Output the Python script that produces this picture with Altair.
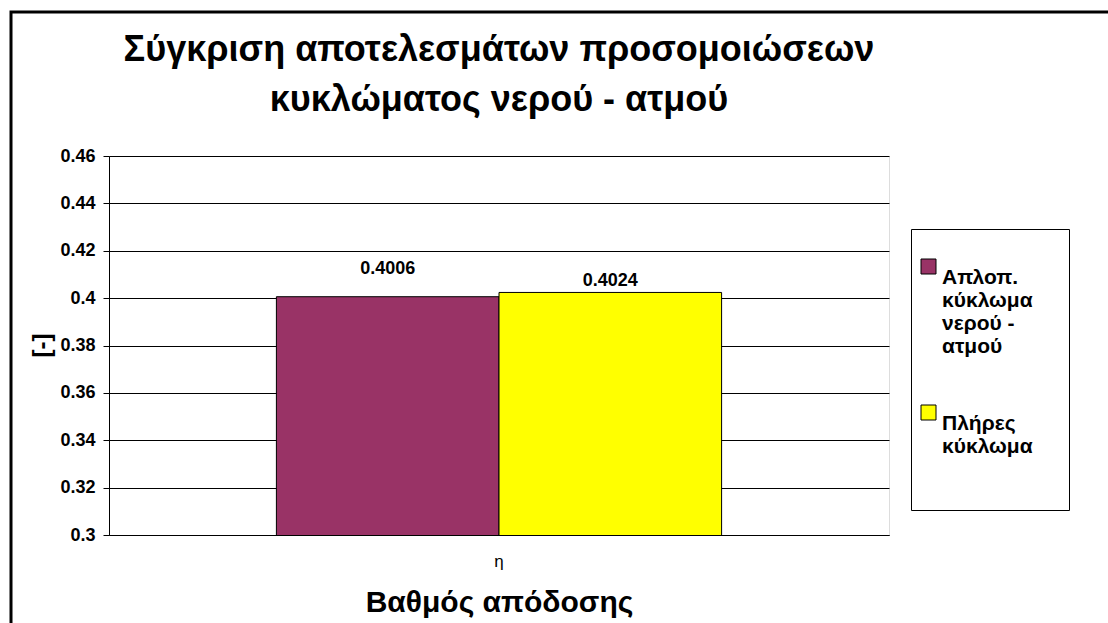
import json
import altair as alt
import pandas as pd

# ---- data ----
categories = ["η"]
series = ["Απλοπ. κύκλωμα νερού - ατμού", "Πλήρες κύκλωμα"]
values = [0.4006, 0.4024]
series_colors = ["#993366", "#FFFF00"]
legend_lines = [
    ["Απλοπ.", "κύκλωμα", "νερού -", "ατμού"],
    ["Πλήρες", "κύκλωμα", "\u2800", "\u2800"],
]
y_ticks = [0.30, 0.32, 0.34, 0.36, 0.38, 0.40, 0.42, 0.44, 0.46]
title_lines = ["Σύγκριση αποτελεσμάτων προσομοιώσεων", "κυκλώματος νερού - ατμού"]
x_title = "Βαθμός απόδοσης"
y_title = "[-]"

df = pd.DataFrame({
    "category": [categories[0]] * len(series),
    "series": series,
    "value": values,
})

FONT = "Liberation Sans"

# blank (braille-blank) filler line gives the legend box the reference width
legend_lines[1][-1] = "\u2800" * 8
label_expr = (
    f"datum.label == {json.dumps(series[0])} ? {json.dumps(legend_lines[0])} : "
    f"{json.dumps(legend_lines[1])}"
)

x_enc = alt.X(
    "category:N",
    scale=alt.Scale(paddingInner=0, paddingOuter=0.376),
    axis=alt.Axis(
        title=x_title, titleFont=FONT, titleFontSize=30, titleFontWeight="bold",
        titleColor="#000", titlePadding=18,
        labelFont=FONT, labelFontSize=17, labelFontWeight="normal", labelColor="#000",
        labelAngle=0, labelPadding=18, ticks=False, domain=True, domainColor="#000",
    ),
)
xoff_enc = alt.XOffset("series:N", sort=series, scale=alt.Scale(paddingInner=0, paddingOuter=0))

y_scale = alt.Scale(domain=[0.30, 0.46], nice=False, zero=False)

bars = alt.Chart(df).mark_bar(stroke="#000", strokeWidth=1, clip=True).encode(
    x=x_enc,
    xOffset=xoff_enc,
    y=alt.Y(
        "value:Q",
        scale=y_scale,
        axis=alt.Axis(
            values=y_ticks, format=".2~f", title=y_title,
            titleFont=FONT, titleFontSize=24, titleFontWeight="bold", titleColor="#000",
            titleAngle=-90, titleX=-67, titleY=189, titleAlign="center", titleBaseline="middle",
            labelFont=FONT, labelFontSize=18, labelFontWeight="bold", labelColor="#000",
            labelPadding=8, tickSize=6, tickColor="#000", domainColor="#000",
            grid=True, gridColor="#000", gridWidth=1,
        ),
    ),
    color=alt.Color(
        "series:N",
        sort=series,
        scale=alt.Scale(domain=series, range=series_colors),
        legend=alt.Legend(
            title=" ", titleFontSize=16, titlePadding=4,
            orient="none", legendX=802, legendY=73,
            strokeColor="#000", fillColor="#fff", padding=7,
            symbolType="square", symbolSize=225, symbolStrokeColor="#000",
            symbolStrokeWidth=1, symbolOpacity=1,
            labelFont=FONT, labelFontSize=21, labelFontWeight="bold", labelColor="#000",
            labelExpr=label_expr, labelLimit=300, labelOffset=3,
            labelBaseline="top", rowPadding=45,
        ),
    ),
)

def value_label(idx, dy):
    return alt.Chart(df).transform_filter(
        alt.datum.series == series[idx]
    ).mark_text(
        font=FONT, fontSize=18, fontWeight="bold", color="#000",
        baseline="alphabetic", dy=dy,
    ).encode(
        x=alt.X("category:N"),
        xOffset=alt.XOffset("series:N", sort=series),
        y=alt.Y("value:Q", scale=y_scale),
        text=alt.Text("value:Q", format=".4f"),
    )

labels1 = value_label(0, -23)
labels2 = value_label(1, -6)

frame = alt.Chart(alt.Data(values=[{"f": 1}])).mark_rect(
    fill=None, stroke="#000", strokeWidth=3
).encode(
    x=alt.value(-98), x2=alt.value(1300),
    y=alt.value(-144), y2=alt.value(800),
)

chart = alt.layer(bars, labels1, labels2, frame).properties(
    width=780,
    height=379,
    title=alt.TitleParams(
        text=title_lines, font=FONT, fontSize=36, fontWeight="bold", color="#000",
        anchor="middle", offset=0, dy=108, lineHeight=50,
    ),
    padding={"left": 109, "top": 156, "right": 219, "bottom": 88},
    autosize=alt.AutoSizeParams(type="none"),
).configure_view(
    stroke="#808080", strokeWidth=1
).configure(
    background="#ffffff"
)

chart.save("out.html", embed_options={"renderer": "svg", "actions": False})
